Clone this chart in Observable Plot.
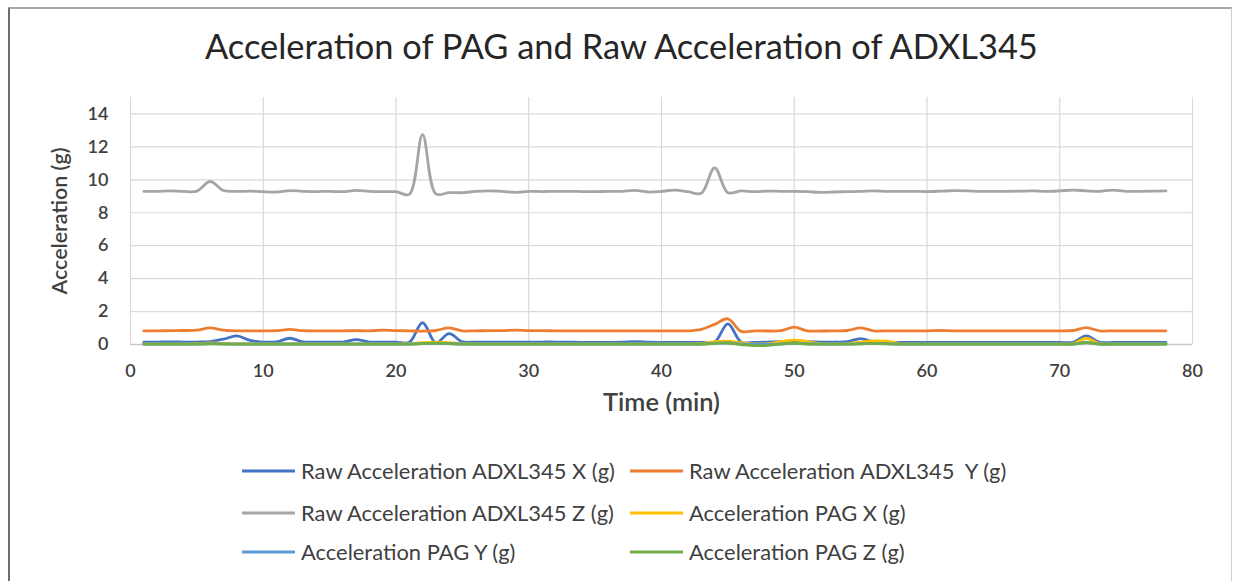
<!DOCTYPE html>
<html><head><meta charset="utf-8">
<script src="https://cdn.jsdelivr.net/npm/d3@7"></script>
<script src="https://cdn.jsdelivr.net/npm/@observablehq/plot@0.6"></script>
<style>
body{margin:0;background:#fff;}
#wrap{position:relative;width:1234px;height:581px;overflow:hidden;font-family:Lato,"Open Sans",sans-serif;background:#fff;}
#frame{position:absolute;left:8px;top:7px;width:1224px;height:640px;border-left:2px solid #6e6e6e;border-top:2px solid #a8a8a8;border-right:1px solid #d0d0d0;box-sizing:border-box;}
#chart{position:absolute;left:0;top:0;}
#title{position:absolute;left:205px;top:29px;white-space:pre;color:#262626;font-size:30px;line-height:1;}
.leg{position:absolute;display:flex;align-items:center;height:20px;}
.leg svg{display:block;}
.leg span{white-space:pre;color:#404040;font-size:17px;margin-left:6px;line-height:1;}
</style>
</head><body>
<div id="wrap">
  <div id="frame"></div>
  <div id="chart"></div>
  <span id="title">Acceleration of PAG and Raw Acceleration of ADXL345</span>
  <div id="legend"></div>
</div>
<script>
// ---- data ----
const minutes = [1,2,3,4,5,6,7,8,9,10,11,12,13,14,15,16,17,18,19,20,21,22,23,24,25,26,27,28,29,30,31,32,33,34,35,36,37,38,39,40,41,42,43,44,45,46,47,48,49,50,51,52,53,54,55,56,57,58,59,60,61,62,63,64,65,66,67,68,69,70,71,72,73,74,75,76,77,78];

const rawX = [0.15,0.15,0.16,0.15,0.15,0.18,0.32,0.52,0.25,0.15,0.16,0.38,0.16,0.15,0.15,0.15,0.30,0.15,0.14,0.15,0.13,1.32,0.10,0.66,0.16,0.15,0.15,0.15,0.15,0.15,0.15,0.15,0.14,0.13,0.13,0.13,0.14,0.17,0.14,0.13,0.13,0.13,0.13,0.14,1.25,0.14,0.13,0.15,0.17,0.16,0.17,0.15,0.15,0.17,0.36,0.15,0.13,0.13,0.13,0.13,0.13,0.13,0.13,0.13,0.13,0.13,0.13,0.13,0.13,0.13,0.13,0.52,0.13,0.13,0.13,0.13,0.13,0.13];

const rawY = [0.83,0.83,0.84,0.85,0.87,1.01,0.87,0.83,0.83,0.83,0.84,0.92,0.84,0.83,0.83,0.83,0.84,0.83,0.87,0.84,0.83,0.81,0.85,1.01,0.83,0.83,0.84,0.84,0.87,0.84,0.84,0.83,0.83,0.83,0.83,0.83,0.83,0.83,0.83,0.83,0.83,0.83,0.92,1.22,1.56,0.80,0.83,0.82,0.84,1.05,0.83,0.82,0.83,0.85,1.01,0.83,0.83,0.83,0.83,0.83,0.85,0.83,0.83,0.83,0.83,0.83,0.83,0.83,0.83,0.83,0.85,1.03,0.83,0.83,0.83,0.83,0.83,0.83];

const rawZ = [9.30,9.30,9.33,9.30,9.31,9.90,9.35,9.30,9.31,9.28,9.26,9.35,9.30,9.29,9.30,9.28,9.36,9.30,9.28,9.28,9.12,12.75,9.15,9.22,9.22,9.30,9.33,9.30,9.24,9.30,9.29,9.30,9.30,9.29,9.28,9.30,9.30,9.36,9.26,9.30,9.38,9.28,9.18,10.73,9.22,9.33,9.28,9.32,9.30,9.30,9.28,9.24,9.26,9.28,9.30,9.33,9.30,9.30,9.30,9.29,9.31,9.34,9.33,9.30,9.30,9.30,9.31,9.33,9.30,9.33,9.38,9.33,9.30,9.38,9.30,9.30,9.31,9.33];

const pagX = [0.04,0.04,0.04,0.04,0.05,0.10,0.06,0.04,0.04,0.04,0.04,0.04,0.04,0.04,0.04,0.04,0.04,0.04,0.04,0.04,0.05,0.12,0.15,0.12,0.05,0.04,0.04,0.04,0.04,0.04,0.04,0.04,0.04,0.04,0.04,0.04,0.04,0.04,0.04,0.04,0.04,0.04,0.06,0.18,0.20,0.12,0.04,0.05,0.18,0.26,0.18,0.05,0.04,0.05,0.15,0.22,0.20,0.05,0.04,0.04,0.04,0.04,0.04,0.04,0.04,0.04,0.04,0.04,0.04,0.04,0.05,0.38,0.05,0.04,0.04,0.04,0.04,0.04];

const pagY = [0.03,0.03,0.03,0.03,0.03,0.05,0.04,0.03,0.03,0.03,0.03,0.03,0.03,0.03,0.03,0.03,0.03,0.03,0.03,0.03,0.03,0.06,0.07,0.06,0.03,0.03,0.03,0.03,0.03,0.03,0.03,0.03,0.03,0.03,0.03,0.03,0.03,0.03,0.03,0.03,0.03,0.03,0.03,0.08,0.10,0.04,0.02,0.02,0.04,0.08,0.04,0.03,0.03,0.03,0.05,0.07,0.05,0.03,0.03,0.03,0.03,0.03,0.03,0.03,0.03,0.03,0.03,0.03,0.03,0.03,0.03,0.12,0.03,0.03,0.03,0.03,0.03,0.03];

const pagZ = [0.02,0.02,0.02,0.02,0.02,0.04,0.03,0.02,0.02,0.02,0.02,0.02,0.02,0.02,0.02,0.02,0.02,0.02,0.02,0.02,0.02,0.06,0.08,0.06,0.02,0.02,0.02,0.02,0.02,0.02,0.02,0.02,0.02,0.02,0.02,0.02,0.02,0.02,0.02,0.02,0.02,0.02,0.02,0.07,0.09,0.00,-0.07,-0.05,0.03,0.08,0.03,0.02,0.02,0.02,0.04,0.07,0.04,0.02,0.02,0.02,0.02,0.02,0.02,0.02,0.02,0.02,0.02,0.02,0.02,0.02,0.02,0.12,0.02,0.02,0.02,0.02,0.02,0.02];

const seriesNames = ["Raw Acceleration ADXL345 X (g)","Raw Acceleration ADXL345  Y (g)","Raw Acceleration ADXL345 Z (g)","Acceleration PAG X (g)","Acceleration PAG Y (g)","Acceleration PAG Z (g)"];
const seriesColors = ["#4472C4","#ED7D31","#A5A5A5","#FFC000","#5B9BD5","#70AD47"];
const xTicks = [0,10,20,30,40,50,60,70,80];
const yTicks = [0,2,4,6,8,10,12,14];
const xTitle = "Time (min)";
const yTitle = "Acceleration (g)";

// ---- build table ----
const seriesValues = [rawX, rawY, rawZ, pagX, pagY, pagZ];
const rows = [];
seriesValues.forEach((vals, si) => vals.forEach((v, i) => rows.push({t: minutes[i], v, series: seriesNames[si]})));

const chart = Plot.plot({
  width: 1234, height: 430,
  marginLeft: 130, marginRight: 42, marginTop: 97, marginBottom: 86,
  style: {fontFamily: "Lato, 'Open Sans', sans-serif", fontSize: "18px", fontWeight: 600, color: "#404040", background: "transparent", overflow: "visible"},
  x: {domain: [0, 80]},
  y: {domain: [0, 15]},
  color: {domain: seriesNames, range: seriesColors},
  marks: [
    Plot.gridX(xTicks, {stroke: "#d9d9d9", strokeOpacity: 1, strokeWidth: 1.2}),
    Plot.gridY(yTicks, {stroke: "#d9d9d9", strokeOpacity: 1, strokeWidth: 1.2}),
    Plot.ruleY([0], {stroke: "#c8c8c8", strokeWidth: 1.3}),
    Plot.axisX(xTicks, {tickSize: 0, tickPadding: 20, label: null, fill: "#404040"}),
    Plot.axisY(yTicks, {tickSize: 0, tickPadding: 22, label: null, fill: "#404040"}),
    Plot.text([xTitle], {frameAnchor: "bottom", textAnchor: "middle", dy: 66, fontSize: 20, fontWeight: 600, fill: "#404040"}),
    Plot.text([yTitle], {frameAnchor: "left", textAnchor: "middle", dx: -70, rotate: -90, fontSize: 20, fontWeight: 600, fill: "#404040"}),
    Plot.line(rows, {x: "t", y: "v", z: "series", stroke: "series", curve: "catmull-rom", strokeWidth: 2.8, strokeLinejoin: "round", strokeLinecap: "round"})
  ]
});
document.getElementById("chart").appendChild(chart);

// ---- legend ----
const legPos = [[242,471],[630,471],[242,513],[630,513],[242,552],[630,552]];
const legend = document.getElementById("legend");
const spans = [];
seriesNames.forEach((name, i) => {
  const d = document.createElement("div");
  d.className = "leg";
  d.style.left = legPos[i][0] + "px";
  d.style.top = (legPos[i][1] - 10) + "px";
  d.innerHTML = `<svg width="53" height="6"><line x1="0" x2="53" y1="3" y2="3" stroke="${seriesColors[i]}" stroke-width="2.8"/></svg>`;
  const s = document.createElement("span");
  s.textContent = name;
  d.appendChild(s);
  legend.appendChild(d);
  spans.push(s);
});

// fit font sizes to widths measured on the reference
function fit(el, target) {
  const fs = parseFloat(getComputedStyle(el).fontSize);
  const w = el.getBoundingClientRect().width;
  if (w > 0) el.style.fontSize = (fs * target / w) + "px";
}
fit(document.getElementById("title"), 833);
fit(spans[0], 314);
const lf = spans[0].style.fontSize;
spans.forEach(s => s.style.fontSize = lf);

function fitSvgText(str, target) {
  chart.querySelectorAll("text").forEach(t => {
    if (t.textContent === str) {
      const fs = parseFloat(t.getAttribute("font-size")) || 20;
      const w = t.getComputedTextLength();
      if (w > 0) t.setAttribute("font-size", fs * target / w);
    }
  });
}
fitSvgText(xTitle, 117);
fitSvgText(yTitle, 147);
</script>
</body></html>
